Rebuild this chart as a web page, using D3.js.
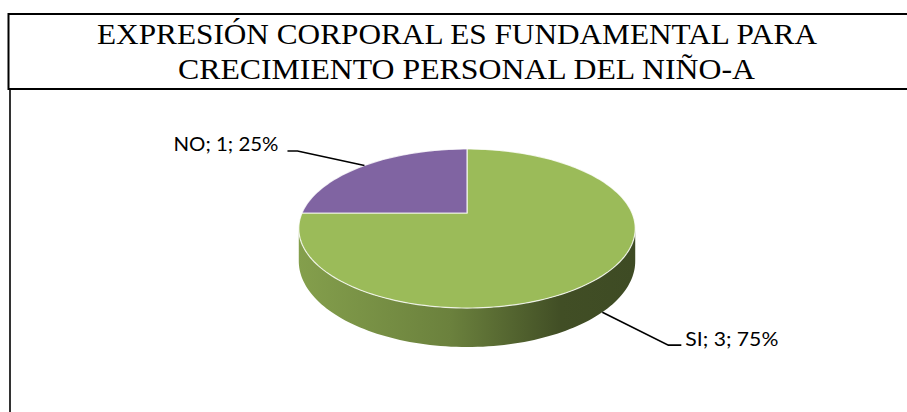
<!DOCTYPE html>
<html>
<head>
<meta charset="utf-8">
<script src="https://cdn.jsdelivr.net/npm/d3@7"></script>
<style>
  body { margin: 0; background: #fff; }
</style>
</head>
<body>
<div id="chart"></div>
<script>
const categories = ["SI", "NO"];
const values = [3, 1];
const colors = ["#9bbb59", "#8064a2"];
const titleLines = ["EXPRESIÓN CORPORAL ES FUNDAMENTAL PARA", "CRECIMIENTO PERSONAL DEL NIÑO-A"];

const width = 907;
const height = 412;
const svg = d3.select("#chart").append("svg").attr("width", width).attr("height", height);

// marcos
svg.append("rect").attr("x", 10).attr("y", 89).attr("width", 950).attr("height", 400)
  .attr("fill", "none").attr("stroke", "#000").attr("stroke-width", 1.6);
svg.append("rect").attr("x", 8.5).attr("y", 14).attr("width", 950).attr("height", 75)
  .attr("fill", "#fff").attr("stroke", "#000").attr("stroke-width", 2);

// titulo
const titleLayout = [
  { x: 97, y: 43.5, w: 720 },
  { x: 178, y: 78.5, w: 577 }
];
svg.selectAll(".title")
  .data(titleLines)
  .join("text")
  .attr("class", "title")
  .attr("x", (d, i) => titleLayout[i].x)
  .attr("y", (d, i) => titleLayout[i].y)
  .attr("textLength", (d, i) => titleLayout[i].w)
  .attr("lengthAdjust", "spacingAndGlyphs")
  .attr("font-family", "'Liberation Serif', 'Times New Roman', serif")
  .attr("font-size", 28.5)
  .attr("fill", "#000")
  .text((d) => d);

// pastel 3D con perspectiva
const cx = 467, cy = 213, rx = 165, ry = 76.5, persp = 0.195, depth = 31.4;
function project(a, z) {
  const u = Math.sin(a), v = -Math.cos(a);
  const w = 1 - persp * v;
  return [cx + (rx * u) / w, cy + (ry * v + depth * z) / w];
}
function arcPoints(a0, a1, z) {
  const n = Math.max(2, Math.ceil(((a1 - a0) / (2 * Math.PI)) * 240));
  return d3.range(n + 1).map((i) => project(a0 + ((a1 - a0) * i) / n, z));
}

const pie = d3.pie().sort(null).value((d) => d);
const arcs = pie(values);
const total = d3.sum(values);
const line = d3.line();

// arco frontal visible (de extremo derecho a extremo izquierdo)
const samples = d3.range(720).map((i) => (i / 720) * 2 * Math.PI);
const aRight = samples[d3.maxIndex(samples, (a) => project(a, 0)[0])];
const aLeft = samples[d3.minIndex(samples, (a) => project(a, 0)[0])];

const defs = svg.append("defs");
colors.forEach((c, i) => {
  const g = defs.append("linearGradient").attr("id", "side" + i)
    .attr("gradientUnits", "userSpaceOnUse")
    .attr("x1", cx - rx * 1.02).attr("x2", cx + rx * 1.02).attr("y1", 0).attr("y2", 0);
  [[0, 0.45], [0.45, 1.05], [0.78, 2.45], [1, 2.55]].forEach(([o, k]) => {
    g.append("stop").attr("offset", o).attr("stop-color", d3.color(c).darker(k));
  });
});

// caras laterales
arcs.forEach((d, i) => {
  const a0 = Math.max(d.startAngle, aRight);
  const a1 = Math.min(d.endAngle, aLeft);
  if (a1 <= a0) return;
  const pts = arcPoints(a0, a1, 0).concat(arcPoints(a0, a1, 1).reverse());
  svg.append("path").attr("d", line(pts) + "Z").attr("fill", `url(#side${i})`);
});

// cara superior
svg.selectAll(".slice")
  .data(arcs)
  .join("path")
  .attr("class", "slice")
  .attr("d", (d) => line([[cx, cy]].concat(arcPoints(d.startAngle, d.endAngle, 0))) + "Z")
  .attr("fill", (d, i) => colors[i])
  .attr("stroke", "#fff")
  .attr("stroke-opacity", 0.8)
  .attr("stroke-width", 1.2);

// etiquetas con lineas guia
const labelLayout = [
  { dx: 66, dy: 33, tail: 13, gap: 4, w: 93 },
  { dx: -67, dy: -14.5, tail: -10, gap: -9, w: 105 }
];
arcs.forEach((d, i) => {
  const mid = (d.startAngle + d.endAngle) / 2;
  const front = -Math.cos(mid) > 0;
  const p0 = project(mid, front ? 1 : 0);
  const L = labelLayout[i];
  const p1 = [p0[0] + L.dx, p0[1] + L.dy];
  const p2 = [p1[0] + L.tail, p1[1]];
  svg.append("path").attr("d", line([p0, p1, p2]))
    .attr("fill", "none").attr("stroke", "#000").attr("stroke-width", 1.6);
  const pct = Math.round((d.value / total) * 100);
  svg.append("text")
    .attr("x", p2[0] + L.gap)
    .attr("y", p2[1] + 0.5)
    .attr("text-anchor", L.tail > 0 ? "start" : "end")
    .attr("textLength", L.w)
    .attr("lengthAdjust", "spacingAndGlyphs")
    .attr("font-family", "Lato, 'Open Sans', sans-serif")
    .attr("font-size", 19.5)
    .attr("fill", "#000")
    .text(`${categories[i]}; ${d.value}; ${pct}%`);
});
</script>
</body>
</html>
